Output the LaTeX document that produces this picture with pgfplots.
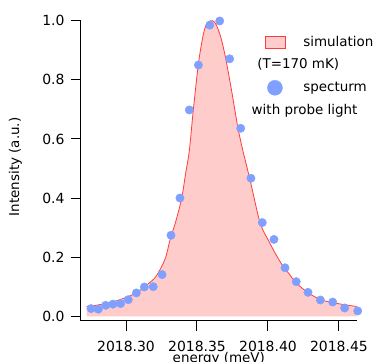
\documentclass[border=0pt]{standalone}
\usepackage{fontspec}
\setmainfont{DejaVu Sans}
\usepackage{pgfplots}
\usepackage{pgfplotstable}
\pgfplotsset{compat=1.18}
\definecolor{simfill}{RGB}{255,204,204}
\definecolor{simline}{RGB}{255,60,60}
\definecolor{dotblue}{RGB}{128,160,255}
\pgfplotsset{
 simlegend/.style={legend image code/.code={\draw[fill=simfill,draw=simline,line width=0.8bp] (0bp,-6.3bp) rectangle (20bp,6.3bp);}},
 dotlegend/.style={legend image code/.code={\path[dotblue, mark=*, mark size=7.5bp, mark options={dotblue}] plot[only marks] coordinates {(10bp,0bp)};}},
}
% energy values are given as (E - 2018) meV
\pgfplotstableread{
x y
0.2723 0.033
0.2800 0.038
0.2911 0.049
0.3028 0.069
0.3100 0.088
0.3146 0.106
0.3200 0.128
0.3239 0.157
0.3280 0.200
0.3310 0.258
0.3350 0.320
0.3392 0.399
0.3420 0.483
0.3446 0.560
0.3474 0.698
0.3509 0.850
0.3535 0.930
0.3556 0.975
0.3580 0.995
0.3610 1.000
0.3637 0.985
0.3670 0.940
0.3702 0.873
0.3745 0.760
0.3787 0.641
0.3822 0.563
0.3873 0.463
0.3944 0.317
0.4002 0.258
0.4055 0.210
0.4108 0.168
0.4155 0.140
0.4190 0.117
0.4273 0.083
0.4366 0.057
0.4460 0.046
0.4540 0.039
0.4625 0.033
}\simcurve
\pgfplotstableread{
x y
0.2754 0.026
0.2805 0.024
0.2857 0.037
0.2908 0.041
0.2962 0.043
0.3016 0.056
0.3073 0.079
0.3129 0.099
0.3192 0.100
0.3254 0.141
0.3317 0.274
0.3380 0.400
0.3446 0.698
0.3510 0.850
0.3590 0.985
0.3660 0.999
0.3730 0.871
0.3808 0.636
0.3880 0.467
0.3960 0.317
0.4042 0.260
0.4120 0.164
0.4199 0.117
0.4282 0.081
0.4369 0.055
0.4456 0.048
0.4540 0.028
0.4632 0.018
}\spectrum
\begin{document}
\begin{tikzpicture}
\path[use as bounding box] (-81bp,-41.3bp) rectangle (297bp,320.7bp);
\begin{axis}[
 at={(0,0)}, anchor=south west,
 scale only axis, width=275.7bp, height=300bp,
 xmin=0.2683, xmax=0.4625, ymin=-0.015, ymax=1.0,
 axis x line*=bottom, axis y line*=left,
 axis line style={-, line width=1bp, black},
 tick align=outside, major tick length=10bp,
 tick style={line width=1bp, black},
 xtick={0.30,0.35,0.40,0.45}, xticklabels={2018.30,2018.35,2018.40,2018.45},
 ytick={0,0.2,0.4,0.6,0.8,1.0}, yticklabels={0.0,0.2,0.4,0.6,0.8,1.0},
 ticklabel style={font=\fontsize{14}{16}\selectfont},
 xticklabel style={yshift=-6.5bp},
 yticklabel style={xshift=-3bp},
 xlabel={energy (meV)}, ylabel={Intensity (a.u.)},
 label style={font=\fontsize{13.5}{16}\selectfont},
 x label style={at={(axis description cs:0.5,-0.1387)}, anchor=base},
 y label style={at={(axis description cs:-0.2376,0.513)}, anchor=center},
 clip=false,
 legend cell align=left,
 legend style={at={(0.665,0.950)}, anchor=north west, draw=none, fill=none,
   inner sep=0pt, row sep=9bp, column sep=18bp,
   font=\fontsize{13.5}{16}\selectfont,
   nodes={inner sep=0pt, text height=10bp, text depth=3bp}},
]
\addplot[draw=none, fill=simfill, smooth, tension=0.5, forget plot] table {\simcurve} \closedcycle;
\addplot[simline, line width=0.8bp, smooth, tension=0.5, forget plot] table {\simcurve};
\addplot[dotblue, only marks, mark=*, mark size=4.2bp, mark options={dotblue}, forget plot] table {\spectrum};
\addlegendimage{simlegend}
\addlegendentry{simulation}
\addlegendimage{empty legend}
\addlegendentry{\hspace*{-46bp}(T=170 mK)}
\addlegendimage{dotlegend}
\addlegendentry{specturm}
\addlegendimage{empty legend}
\addlegendentry{\hspace*{-51.6bp}with probe light}
\end{axis}
\end{tikzpicture}
\end{document}
